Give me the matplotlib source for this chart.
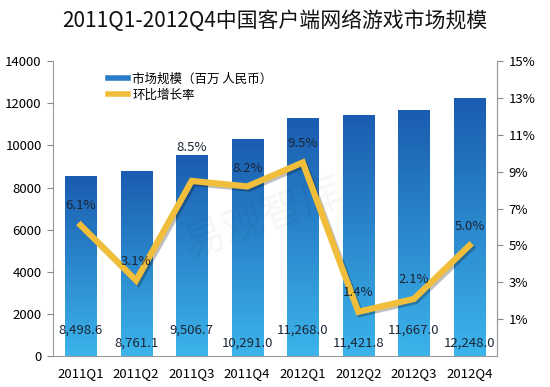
import matplotlib
matplotlib.use('Agg')
import matplotlib.pyplot as plt
import matplotlib.patheffects as pe
from matplotlib.lines import Line2D
import numpy as np

plt.rcParams['font.family'] = ['Noto Sans CJK SC', 'DejaVu Sans']

# data
quarters = ['2011Q1', '2011Q2', '2011Q3', '2011Q4', '2012Q1', '2012Q2', '2012Q3', '2012Q4']
market_size = [8498.6, 8761.1, 9506.7, 10291.0, 11268.0, 11421.8, 11667.0, 12248.0]
growth = [6.1, 3.1, 8.5, 8.2, 9.5, 1.4, 2.1, 5.0]

fig = plt.figure(figsize=(5.5, 3.87), dpi=100)
ax = fig.add_axes([0.096, 0.080, 0.808, 0.762])

x = np.arange(len(quarters))
w = 0.56
grad = np.linspace(0, 1, 256).reshape(-1, 1)
cmap = matplotlib.colors.LinearSegmentedColormap.from_list('b', ['#3cb4ea', '#1a5cb0'])
for xi, v in zip(x, market_size):
    ax.imshow(grad, extent=[xi - w / 2, xi + w / 2, 0, v], origin='lower',
              aspect='auto', cmap=cmap, zorder=2)

ax.set_xlim(-0.5, len(quarters) - 0.5)
ax.set_ylim(0, 14000)
ax.set_yticks(range(0, 14001, 2000))
ax.set_xticks(x)
ax.set_xticklabels(quarters)
ax.tick_params(axis='x', length=0, pad=8, labelsize=9.5)
ax.tick_params(axis='y', length=4, color='#888888', labelsize=9.5, pad=4)
ax.spines['top'].set_visible(False)
for s in ['left', 'bottom', 'right']:
    ax.spines[s].set_color('#999999')

# value labels inside bars, alternating heights
for i, (xi, v) in enumerate(zip(x, market_size)):
    yy = 1250 if i % 2 == 0 else 620
    ax.text(xi, yy, f'{v:,.1f}', ha='center', va='center', fontsize=9.5,
            color='#1b2535', zorder=5)

# watermark
ax.text(3.3, 6500, '易观智库', fontsize=30, color='#000000', alpha=0.04,
        rotation=20, ha='center', va='center', zorder=6)

ax2 = ax.twinx()
ax2.set_ylim(-1, 15)
ax2.set_yticks(range(1, 16, 2))
ax2.set_yticklabels([f'{t}%' for t in range(1, 16, 2)])
ax2.tick_params(axis='y', length=4, color='#888888', labelsize=9.5, pad=4)
for s in ['top', 'left', 'bottom']:
    ax2.spines[s].set_visible(False)
ax2.spines['right'].set_color('#999999')

ax2.plot(x, growth, color='#f0be3a', lw=4.5, solid_joinstyle='miter', zorder=4,
         path_effects=[pe.SimpleLineShadow(offset=(1.5, -1.5), alpha=0.25), pe.Normal()])

offsets = [14, 14, 24, 13, 14, 14, 14, 14]
for xi, g, o in zip(x, growth, offsets):
    ax2.annotate(f'{g:.1f}%', (xi, g), xytext=(0, o), textcoords='offset points',
                 ha='center', va='center', fontsize=9.5, color='#1b2535', zorder=5)

handles = [Line2D([], [], color='#2a7cc8', lw=4),
           Line2D([], [], color='#f0be3a', lw=4)]
ax2.legend(handles, ['市场规模（百万 人民币）', '环比增长率'], loc='upper left',
           bbox_to_anchor=(0.1, 1.0), frameon=False, fontsize=9,
           handlelength=1.6, handletextpad=0.3, labelspacing=0.25)

fig.text(0.5, 0.945, '2011Q1-2012Q4中国客户端网络游戏市场规模', ha='center', va='center',
         fontsize=15, color='#111111')

fig.savefig('out.png', dpi=100)
